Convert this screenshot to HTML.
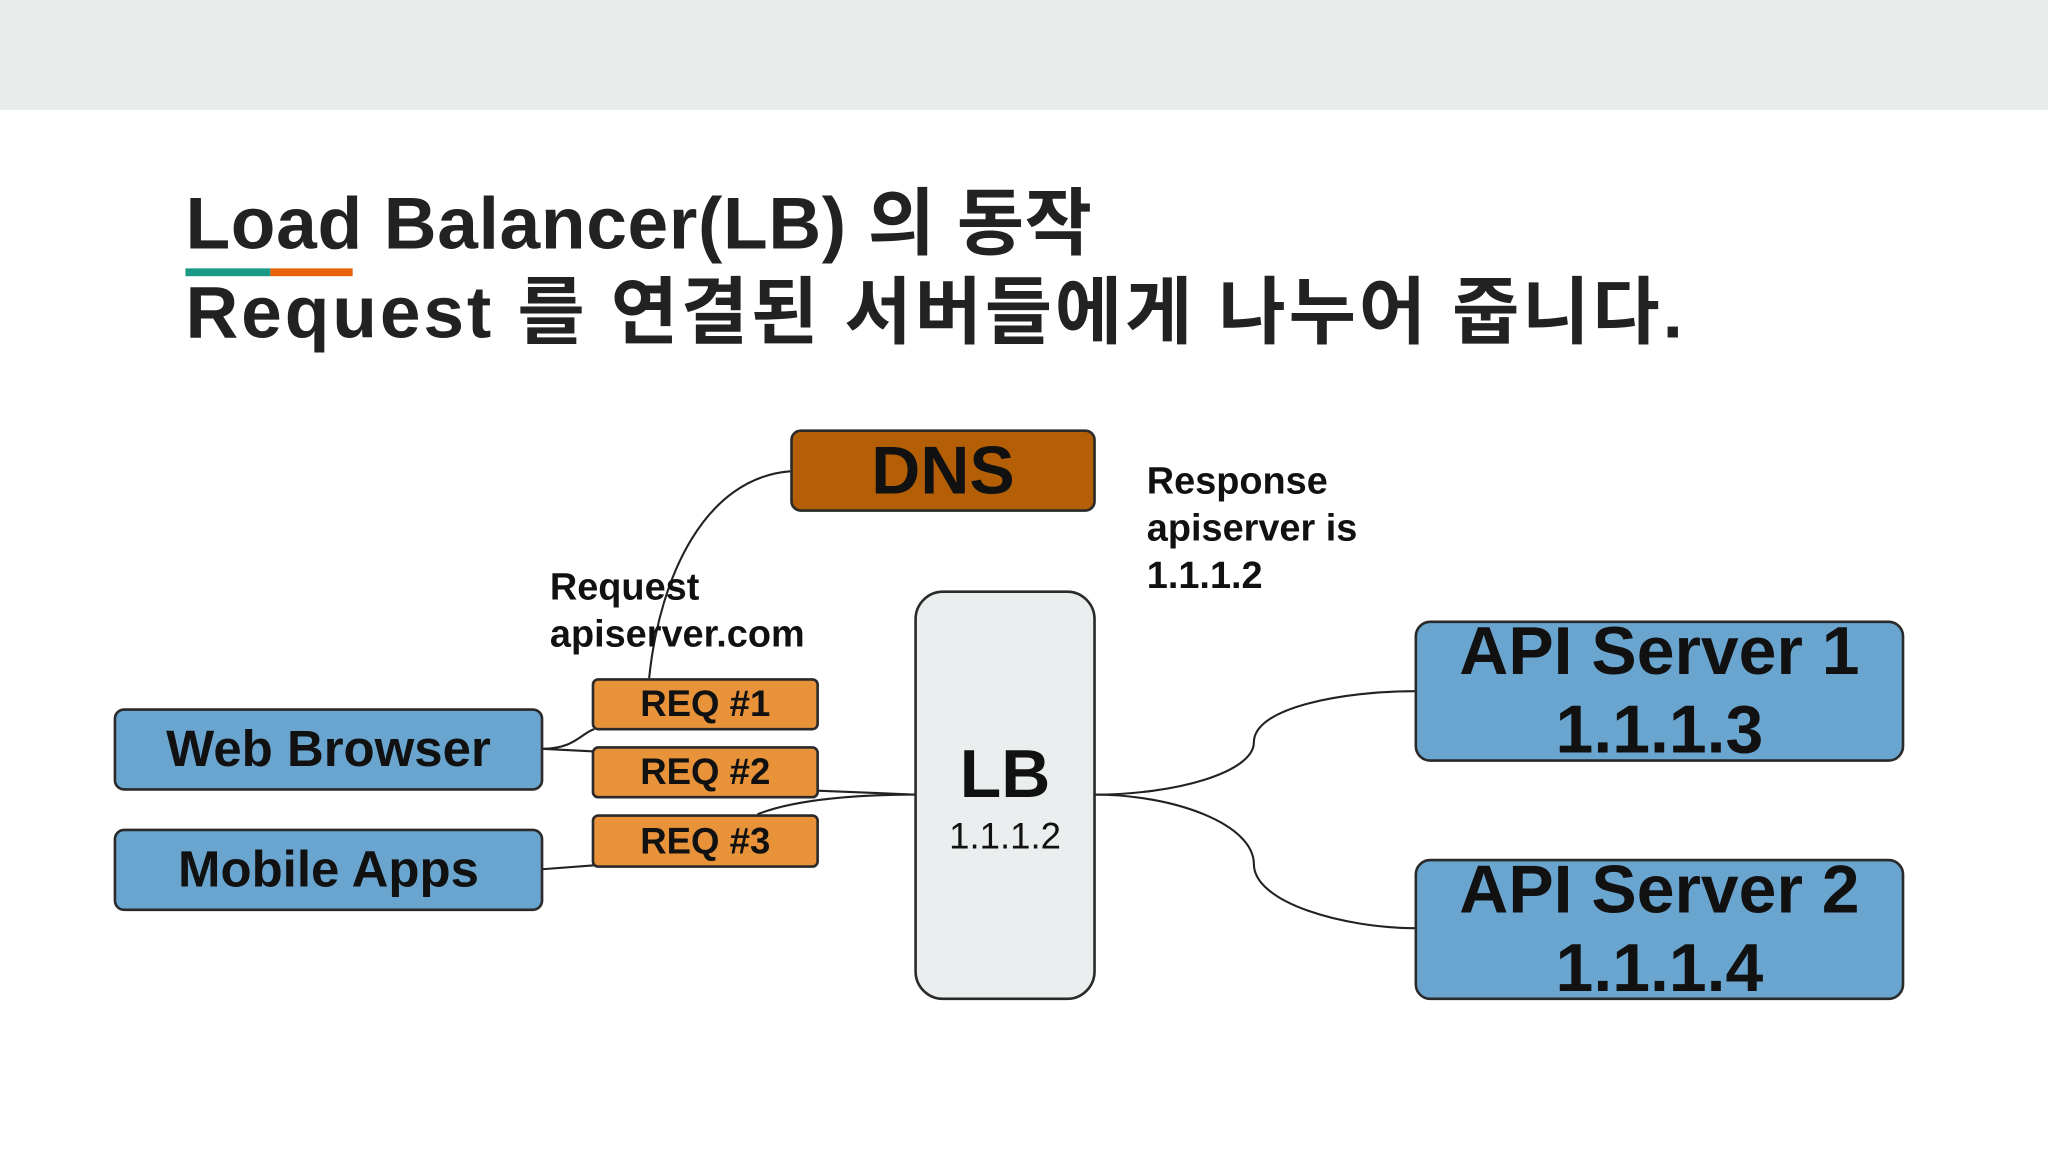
<!DOCTYPE html>
<html><head><meta charset="utf-8"><style>
html,body{margin:0;padding:0;width:2048px;height:1152px;overflow:hidden;background:#fff}
#w{position:absolute;left:0;top:0;width:1568px;height:880px;transform-origin:0 0;transform:scale(1.30612,1.30909);font-family:"Liberation Sans","Noto Sans CJK KR",sans-serif}
.b{position:absolute;box-sizing:border-box;border:2px solid #2a2a2a;display:flex;align-items:center;justify-content:center;font-weight:bold;color:#111;text-align:center}
.t{position:absolute;color:#111;font-weight:bold;white-space:nowrap}
</style></head><body><div id="w">
<div style="position:absolute;left:0;top:0;width:1568px;height:84px;background:#e8edeb"></div>
<div class="t" style="left:142px;top:138px;font-size:56px;line-height:66px;color:#222;letter-spacing:0.5px">Load Balancer(LB) 의 동작</div>
<div style="position:absolute;left:142px;top:205px;width:65px;height:6px;background:#1a9987"></div>
<div style="position:absolute;left:207px;top:205px;width:63px;height:6px;background:#e8620c"></div>
<div class="t" style="left:142px;top:206px;font-size:56px;line-height:66px;color:#222;letter-spacing:2.2px">Request 를 연결된 서버들에게 나누어 줍니다.</div>
<svg width="1568" height="880" style="position:absolute;left:0;top:0" fill="none" stroke="#222" stroke-width="1.6">
<path d="M605,360 C540,365 505,440 497,518"/>
<path d="M415,572 C440,572 445,560 455,557"/>
<path d="M415,572 L455,574"/>
<path d="M626,604 L701,607"/>
<path d="M415,664 L455,661"/>
<path d="M580,622 C610,610 660,607 701,607"/>
<path d="M838,607 C900,607 960,590 960,567 C960,540 1030,528 1083,528"/>
<path d="M838,607 C900,607 960,630 960,660 C960,690 1030,709 1083,709"/>
</svg>
<div class="b" style="left:605px;top:328px;width:234px;height:63px;background:#b45f06;border-radius:8px;font-size:52px">DNS</div>
<div class="t" style="left:878px;top:350px;font-size:29px;line-height:36px">Response<br>apiserver is<br>1.1.1.2</div>
<div class="t" style="left:421px;top:431px;font-size:29px;line-height:36px">Request<br>apiserver.com</div>
<div class="b" style="left:700px;top:451px;width:139px;height:313px;background:#ebeeee;border-radius:22px;flex-direction:column"><div style="font-size:52px;line-height:58px;margin-top:4px">LB</div><div style="font-size:28px;font-weight:normal;line-height:36px">1.1.1.2</div></div>
<div class="b" style="left:87px;top:541px;width:329px;height:63px;background:#6aa5cf;border-radius:8px;font-size:39px">Web Browser</div>
<div class="b" style="left:87px;top:633px;width:329px;height:63px;background:#6aa5cf;border-radius:8px;font-size:39px">Mobile Apps</div>
<div class="b" style="left:453px;top:518px;width:174px;height:40px;background:#e8933a;border-radius:5px;font-size:28px">REQ #1</div>
<div class="b" style="left:453px;top:570px;width:174px;height:40px;background:#e8933a;border-radius:5px;font-size:28px">REQ #2</div>
<div class="b" style="left:453px;top:622px;width:174px;height:41px;background:#e8933a;border-radius:5px;font-size:28px">REQ #3</div>
<div class="b" style="left:1083px;top:474px;width:375px;height:108px;background:#6aa5cf;border-radius:12px;font-size:52px;line-height:60px">API Server 1<br>1.1.1.3</div>
<div class="b" style="left:1083px;top:656px;width:375px;height:108px;background:#6aa5cf;border-radius:12px;font-size:52px;line-height:60px">API Server 2<br>1.1.1.4</div>
</div></body></html>
